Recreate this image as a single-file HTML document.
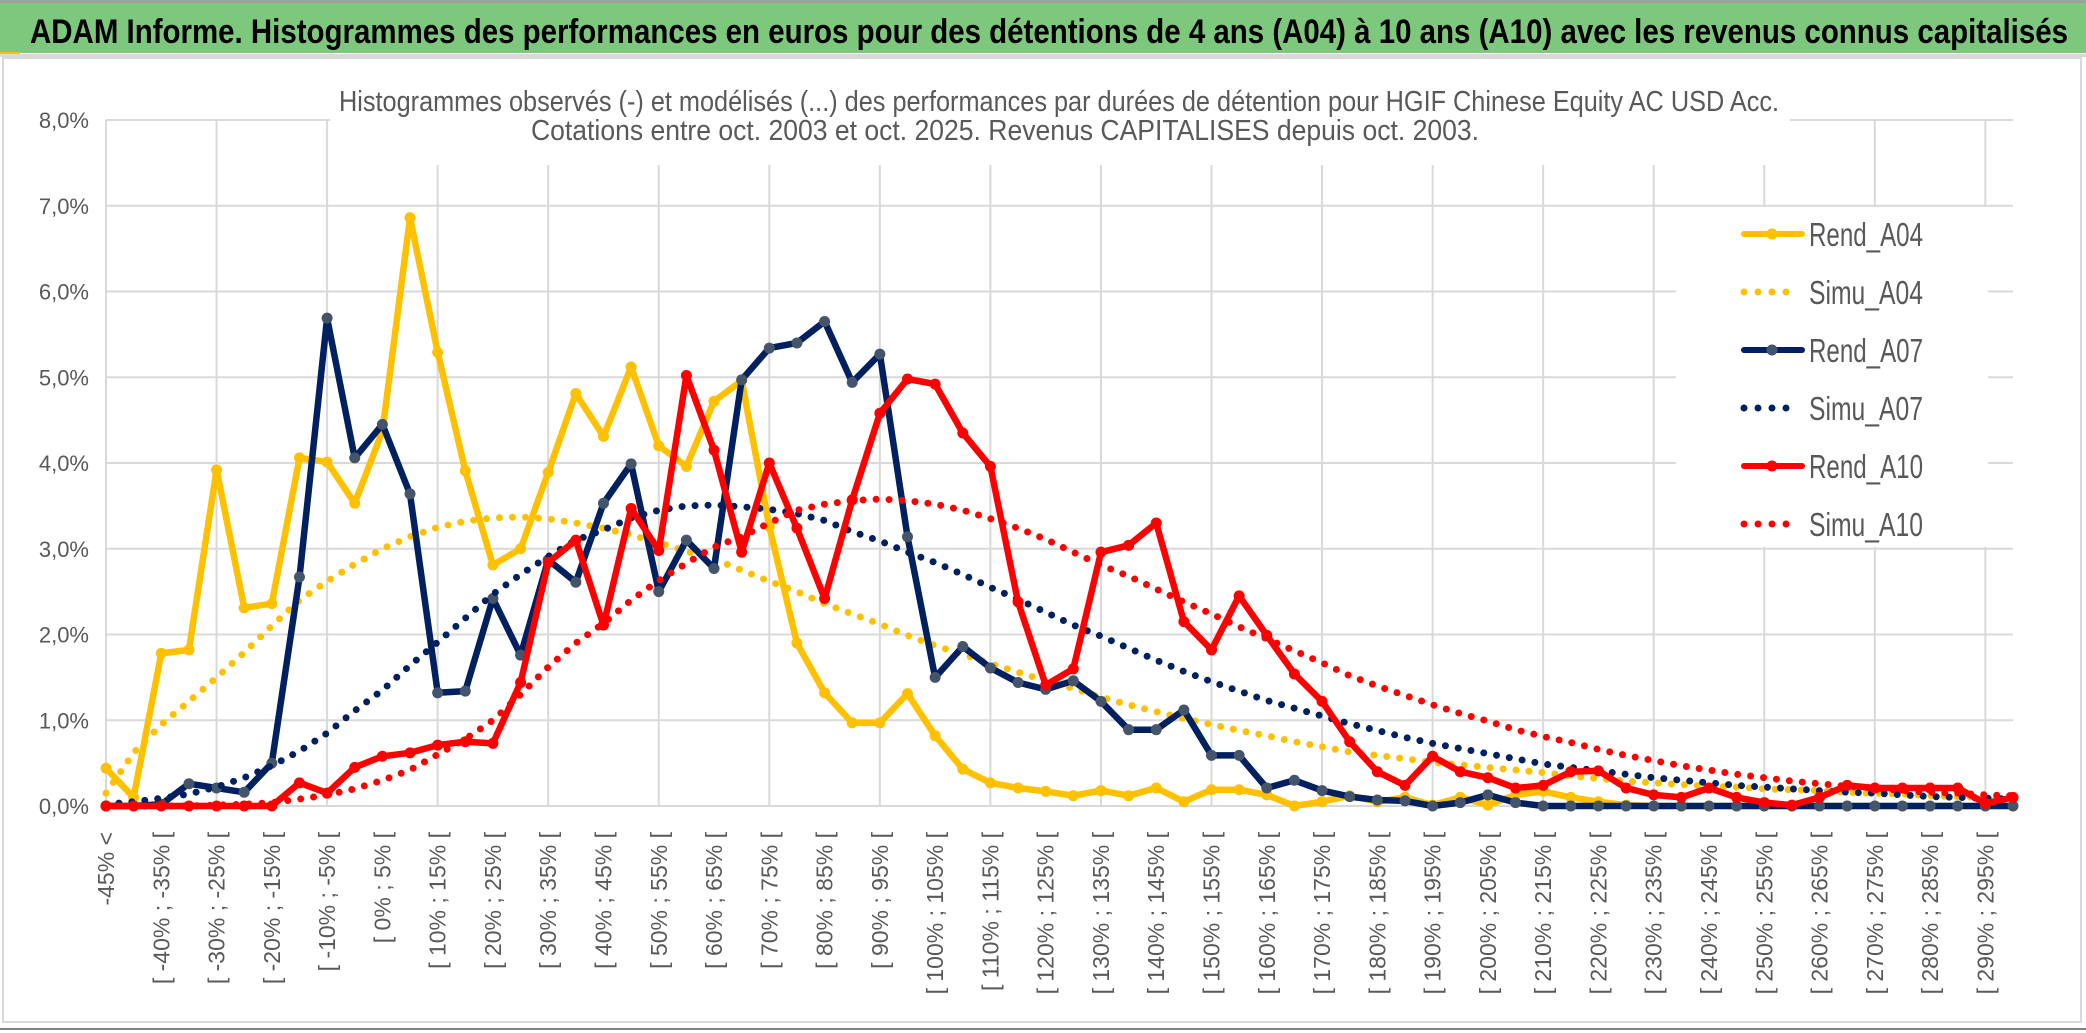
<!DOCTYPE html>
<html><head><meta charset="utf-8"><style>
html,body{margin:0;padding:0;background:#fff;}
svg{display:block;font-family:"Liberation Sans",Arial,sans-serif;}
</style></head><body>
<svg id="chart" width="2086" height="1033" viewBox="0 0 2086 1033">
<rect x="0" y="0" width="2086" height="1033" fill="#fff"/>
<rect x="0" y="0" width="2086" height="3" fill="#a0a0a0"/>
<rect x="0" y="3" width="2086" height="50" fill="#7ec87e"/>
<rect x="0" y="52" width="20" height="3" fill="#ffc000"/>
<rect x="0" y="54" width="2086" height="3" fill="#d9d9d9"/>
<text x="30" y="43" font-size="34" font-weight="bold" fill="#000" textLength="2038" lengthAdjust="spacingAndGlyphs">ADAM Informe. Histogrammes des performances en euros pour des détentions de 4 ans (A04) à 10 ans (A10) avec les revenus connus capitalisés</text>
<rect x="3" y="58" width="2078" height="964" fill="none" stroke="#d9d9d9" stroke-width="2"/>
<rect x="0" y="1028" width="2086" height="2" fill="#808080"/>
<g id="grid"></g>
<rect x="330" y="100" width="1460" height="65" fill="#fff"/>
<text x="339" y="111" font-size="29" fill="#595959" textLength="1440" lengthAdjust="spacingAndGlyphs">Histogrammes observés (-) et modélisés (...) des performances par durées de détention pour HGIF Chinese Equity AC USD Acc.</text>
<text x="531" y="140" font-size="29" fill="#595959" textLength="948" lengthAdjust="spacingAndGlyphs">Cotations entre oct. 2003 et oct. 2025. Revenus CAPITALISES depuis oct. 2003.</text>
<g id="yticks"></g>
<g id="xticks"></g>
<g id="series"></g>
<g id="legend"></g>
</svg>
<script>
const yTicks = [0,1,2,3,4,5,6,7,8];
const rendA04 = [0.44,0.10,1.78,1.82,3.92,2.31,2.36,4.06,4.01,3.53,4.37,6.86,5.29,3.91,2.81,3.00,3.89,4.81,4.31,5.12,4.20,3.96,4.72,4.96,3.26,1.90,1.32,0.97,0.97,1.31,0.82,0.43,0.27,0.21,0.17,0.12,0.18,0.12,0.21,0.05,0.19,0.19,0.13,0.00,0.05,0.12,0.05,0.10,0.01,0.10,0.01,0.13,0.17,0.10,0.05,0.01,0,0,0,0,0,0,0,0,0,0,0,0,0,0];
const simuA04 = [0.15,0.62,0.95,1.22,1.50,1.79,2.10,2.40,2.62,2.82,3.00,3.14,3.25,3.32,3.36,3.37,3.35,3.30,3.24,3.16,3.07,2.97,2.88,2.75,2.62,2.50,2.36,2.24,2.12,1.99,1.87,1.77,1.66,1.56,1.46,1.37,1.27,1.18,1.10,1.02,0.95,0.88,0.82,0.75,0.69,0.63,0.59,0.55,0.51,0.48,0.45,0.42,0.39,0.35,0.32,0.29,0.27,0.25,0.23,0.22,0.20,0.19,0.18,0.16,0.15,0.14,0.12,0.11,0.10,0.09];
const rendA07 = [0,0,0.02,0.26,0.21,0.16,0.50,2.67,5.69,4.06,4.45,3.64,1.32,1.34,2.42,1.76,2.87,2.61,3.53,3.99,2.50,3.10,2.77,4.97,5.34,5.40,5.65,4.94,5.27,3.14,1.50,1.86,1.61,1.44,1.36,1.46,1.22,0.89,0.89,1.12,0.59,0.59,0.21,0.30,0.18,0.11,0.07,0.06,0.00,0.04,0.13,0.04,0,0,0,0,0,0,0,0,0,0,0,0,0,0,0,0,0,0];
const simuA07 = [0.02,0.05,0.09,0.14,0.22,0.33,0.47,0.64,0.85,1.11,1.35,1.64,1.91,2.19,2.47,2.70,2.91,3.10,3.22,3.36,3.45,3.50,3.51,3.49,3.46,3.41,3.33,3.20,3.09,2.96,2.84,2.70,2.55,2.41,2.26,2.11,1.98,1.84,1.70,1.57,1.45,1.34,1.23,1.14,1.05,0.96,0.88,0.80,0.73,0.67,0.61,0.55,0.49,0.45,0.41,0.37,0.33,0.30,0.27,0.24,0.22,0.20,0.18,0.16,0.15,0.13,0.11,0.10,0.09,0.08];
const rendA10 = [0,0,0,0,0,0,0,0.27,0.15,0.45,0.58,0.62,0.71,0.75,0.73,1.44,2.84,3.10,2.11,3.47,2.98,5.02,4.15,2.96,4.00,3.24,2.42,3.57,4.58,4.98,4.92,4.35,3.96,2.38,1.41,1.60,2.96,3.04,3.30,2.15,1.82,2.45,1.99,1.54,1.22,0.75,0.40,0.24,0.58,0.40,0.33,0.21,0.24,0.40,0.41,0.21,0.13,0.10,0.21,0.10,0.04,0.01,0.10,0.24,0.21,0.21,0.21,0.21,0.03,0.10];
const simuA10 = [0,0,0,0,0.01,0.02,0.04,0.08,0.13,0.20,0.30,0.42,0.60,0.78,1.00,1.30,1.62,1.90,2.13,2.40,2.63,2.83,3.02,3.14,3.30,3.45,3.52,3.56,3.58,3.56,3.52,3.45,3.35,3.24,3.11,2.96,2.81,2.68,2.53,2.38,2.24,2.09,1.95,1.81,1.67,1.52,1.40,1.29,1.18,1.08,0.99,0.89,0.81,0.74,0.66,0.59,0.53,0.47,0.42,0.37,0.33,0.29,0.26,0.23,0.21,0.18,0.16,0.15,0.13,0.12];
const categories = ["-45% <"];
for (let k = 1; k < 70; k++) { const a = -45 + 5*(k-1); categories.push("[ " + a + "% ; " + (a+5) + "% ["); }

const NS = "http://www.w3.org/2000/svg";
const X0 = 106, X1 = 2013, Y0 = 806, Y8 = 120;
function xs(i){ return X0 + i*(X1-X0)/(categories.length-1); }
function ys(v){ return Y0 - v*(Y0-Y8)/8; }
function mk(tag, attrs, parent){ const e=document.createElementNS(NS,tag); for(const k in attrs) e.setAttribute(k,attrs[k]); parent.appendChild(e); return e; }

const grid = document.getElementById('grid');
for (const t of yTicks) {
  const l = mk('line',{x1:X0,x2:X1,y1:ys(t),y2:ys(t),stroke:'#d9d9d9','stroke-width':2},grid);
  
  
}
for (let i = 0; i < categories.length; i += 4) {
  const l = mk('line',{x1:xs(i),x2:xs(i),y1:ys(8),y2:Y0,stroke:'#d9d9d9','stroke-width':2},grid);
  
  
}
const yt = document.getElementById('yticks');
for (const t of yTicks) {
  const tx = mk('text',{x:89,y:ys(t)+8,'font-size':22,fill:'#595959','text-anchor':'end'},yt);
  tx.textContent = t.toFixed(1).replace('.',',') + '%';
  
  
}
const xt = document.getElementById('xticks');
for (let i = 0; i < categories.length; i += 2) {
  const x = xs(i)+8, y = 832;
  const tx = mk('text',{x:x,y:y,'font-size':23,fill:'#595959','text-anchor':'end',transform:'rotate(-90 '+x+' '+y+')'},xt);
  tx.textContent = categories[i];
  
  
}
const ser = document.getElementById('series');
function pathOf(vals){ return vals.map((v,i)=>(i?'L':'M')+xs(i).toFixed(1)+' '+ys(v).toFixed(1)).join(' '); }
function drawRend(vals,color,mcolor,name){
  const g = mk('g',{},ser);
  
  
  mk('path',{d:pathOf(vals),fill:'none',stroke:color,'stroke-width':6.5,'stroke-linejoin':'round','stroke-linecap':'round'},g);
  vals.forEach((v,i)=>{
    const c = mk('circle',{cx:xs(i),cy:ys(v),r:5.5,fill:mcolor},g);
    
    
  });
}
function drawSimu(vals,color,name){
  const p = mk('path',{d:pathOf(vals),fill:'none',stroke:color,'stroke-width':7,'stroke-dasharray':'0 13','stroke-linecap':'round'},ser);
  
  
}
drawRend(rendA04,'#ffc000','#ffc000','rend-a04-line');
drawSimu(simuA04,'#ffc000','simu-a04-line');
drawRend(rendA07,'#002060','#44546a','rend-a07-line');
drawSimu(simuA07,'#002060','simu-a07-line');
drawRend(rendA10,'#ff0000','#ff0000','rend-a10-line');
drawSimu(simuA10,'#ff0000','simu-a10-line');

const lg = document.getElementById('legend');
mk('rect',{x:1676,y:207,width:312,height:340,fill:'#fff'},lg);
const legendNames = ['Rend_A04','Simu_A04','Rend_A07','Simu_A07','Rend_A10','Simu_A10'];
const legendColors = ['#ffc000','#ffc000','#002060','#002060','#ff0000','#ff0000'];
const legendMarkers = ['#ffc000',null,'#44546a',null,'#ff0000',null];
legendNames.forEach((n,k)=>{
  const cy = 234 + k*58;
  const g = mk('g',{},lg);
  
  
  if (legendMarkers[k]) {
    mk('line',{x1:1744,x2:1802,y1:cy,y2:cy,stroke:legendColors[k],'stroke-width':6,'stroke-linecap':'round'},g);
    mk('circle',{cx:1772,cy:cy,r:5.5,fill:legendMarkers[k]},g);
  } else {
    mk('line',{x1:1744,x2:1800,y1:cy,y2:cy,stroke:legendColors[k],'stroke-width':7,'stroke-dasharray':'0 14','stroke-linecap':'round'},g);
  }
  const t = mk('text',{x:1809,y:cy+12,'font-size':33,fill:'#595959',textLength:114,lengthAdjust:'spacingAndGlyphs'},g);
  t.textContent = n;
});
</script>
</body></html>
